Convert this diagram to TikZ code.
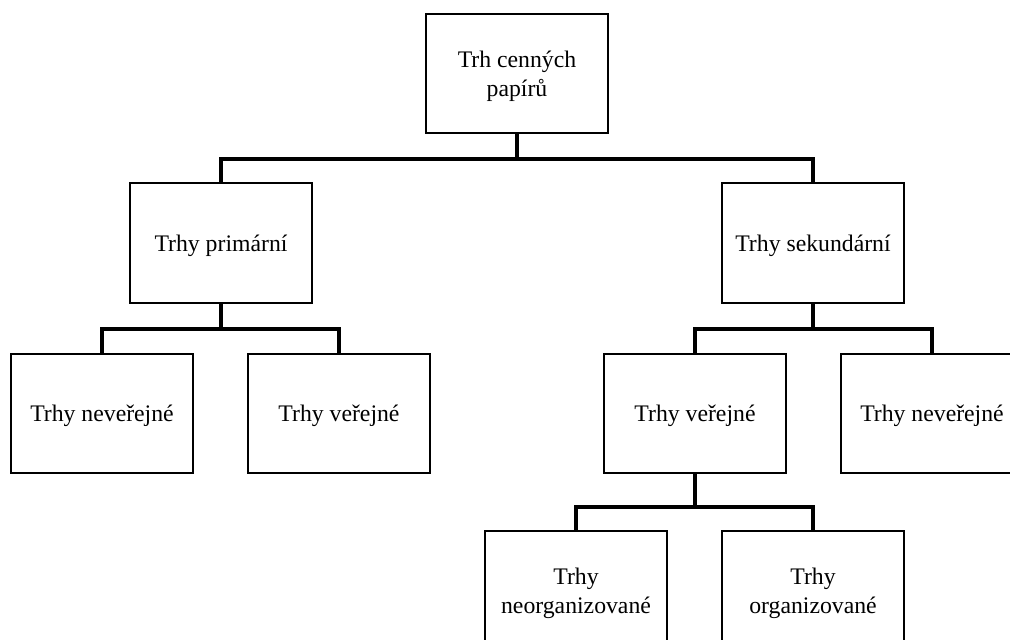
\documentclass[tikz,border=0pt]{standalone}
\usepackage{fontspec}
\setmainfont{Liberation Serif}
\usepackage{tikz}
\usetikzlibrary{positioning,calc}
\tikzset{
box/.style={draw=black,line width=1.5pt,minimum width=136.5pt,minimum height=89.5pt,inner sep=2pt,align=center,
text depth=0pt,font=\fontsize{17.8}{21.75}\selectfont},
conn/.style={draw=black,line width=3pt,miter limit=4},
}

\begin{document}
\begin{tikzpicture}[x=0.75pt,y=-0.75pt]
\useasboundingbox (0,0) rectangle (1010,639);
\clip (0,0) rectangle (1010,639);
% level 0 and 1
\node[box] (root) at (517,73.5) {Trh cenných\\papírů};
\node[box] (prim) at (221,243) {Trhy primární};
\node[box] (sek) at (813,243) {Trhy sekundární};
% level 2
\node[box] (pnev) at (102,413.5) {Trhy neveřejné};
\node[box] (pver) at (339,413.5) {Trhy veřejné};
\node[box] (sver) at (695,413.5) {Trhy veřejné};
\node[box] (snev) at (932,413.5) {Trhy neveřejné};
% level 3
\node[box] (neorg) at (576,590.5) {Trhy\\neorganizované};
\node[box] (org) at (813,590.5) {Trhy\\organizované};
% connectors
\coordinate (j0) at ($(root.south)+(0,25)$);
\coordinate (j1) at ($(prim.south)+(0,25)$);
\coordinate (j2) at ($(sek.south)+(0,25)$);
\coordinate (j3) at ($(sver.south)+(0,33)$);
\draw[conn] (root.south) -- (j0);
\draw[conn] (prim.north) |- (j0) -| (sek.north);
\draw[conn] (prim.south) -- (j1);
\draw[conn] (pnev.north) |- (j1) -| (pver.north);
\draw[conn] (sek.south) -- (j2);
\draw[conn] (sver.north) |- (j2) -| (snev.north);
\draw[conn] (sver.south) -- (j3);
\draw[conn] (neorg.north) |- (j3) -| (org.north);
\end{tikzpicture}
\end{document}
